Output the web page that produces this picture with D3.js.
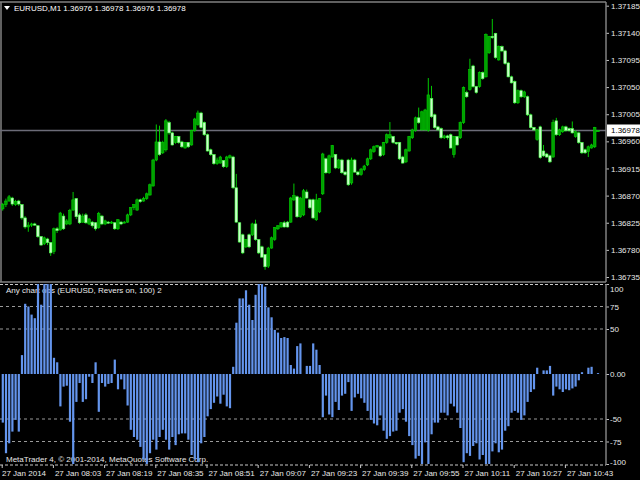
<!DOCTYPE html>
<html><head><meta charset="utf-8">
<script src="https://cdn.jsdelivr.net/npm/d3@7"></script>
<style>
body{margin:0;background:#000;overflow:hidden}
svg{display:block}
text{font-family:Tahoma,"Liberation Sans",Arial,sans-serif;}
</style>
</head><body><svg id="c" width="640" height="480"></svg>
<script>
// ---- data ----
const symbolLabel = "EURUSD,M1";
const lastOHLC = [1.36976, 1.36978, 1.36976, 1.36978];
const indicatorLabel = "Any chart obs (EURUSD, Revers on, 100) 2";
const copyright = "MetaTrader 4, \u00A9 2001-2014, MetaQuotes Software Corp.";

const open = [1.36848,1.36855,1.36861,1.36866,1.36855,1.36861,1.36855,1.36833,1.36818,1.36821,
1.36823,1.36820,1.36802,1.36790,1.36798,1.36792,1.36777,1.36815,1.36813,1.36836,
1.36823,1.36823,1.36846,1.36865,1.36838,1.36826,1.36838,1.36823,1.36826,1.36825,
1.36817,1.36836,1.36823,1.36826,1.36825,1.36825,1.36815,1.36826,1.36825,1.36826,
1.36838,1.36850,1.36846,1.36863,1.36861,1.36865,1.36871,1.36886,1.36929,1.36959,
1.36941,1.36946,1.36991,1.36974,1.36958,1.36968,1.36959,1.36949,1.36958,1.36954,
1.36978,1.36988,1.37007,1.36991,1.36971,1.36946,1.36938,1.36923,1.36924,1.36928,
1.36918,1.36933,1.36934,1.36883,1.36825,1.36805,1.36785,1.36805,1.36805,1.36823,
1.36797,1.36785,1.36772,1.36753,1.36783,1.36797,1.36815,1.36818,1.36825,1.36826,
1.36826,1.36863,1.36868,1.36835,1.36838,1.36876,1.36863,1.36863,1.36830,1.36843,
1.36873,1.36931,1.36908,1.36934,1.36938,1.36916,1.36929,1.36909,1.36929,1.36891,
1.36929,1.36909,1.36905,1.36913,1.36921,1.36931,1.36943,1.36951,1.36951,1.36938,
1.36958,1.36966,1.36968,1.36958,1.36958,1.36934,1.36926,1.36944,1.36966,1.36978,
1.36999,1.36979,1.36979,1.36978,1.37031,1.37004,1.36984,1.36981,1.36966,1.36969,
1.36971,1.36938,1.36968,1.36966,1.36991,1.37041,1.37046,1.37085,1.37051,1.37051,
1.37074,1.37067,1.37107,1.37134,1.37139,1.37095,1.37117,1.37110,1.37090,1.37067,
1.37059,1.37024,1.37044,1.37034,1.37034,1.37004,1.36983,1.36963,1.36984,1.36944,
1.36939,1.36936,1.36934,1.36994,1.36971,1.36976,1.36984,1.36981,1.36981,1.36968,
1.36974,1.36958,1.36946,1.36943,1.36949,1.36951,1.36976];

const high = [1.36858,1.36865,1.36871,1.36868,1.36863,1.36863,1.36856,1.36836,1.36826,1.36825,
1.36825,1.36821,1.36803,1.36802,1.36800,1.36793,1.36817,1.36818,1.36843,1.36840,
1.36831,1.36848,1.36876,1.36866,1.36841,1.36840,1.36841,1.36833,1.36828,1.36826,
1.36843,1.36838,1.36830,1.36828,1.36828,1.36826,1.36831,1.36828,1.36828,1.36840,
1.36851,1.36856,1.36865,1.36865,1.36868,1.36875,1.36890,1.36931,1.36988,1.36986,
1.36961,1.36997,1.36994,1.36976,1.36969,1.36969,1.36961,1.36959,1.36959,1.36979,
1.36999,1.37011,1.37009,1.36993,1.36973,1.36948,1.36939,1.36933,1.36936,1.36929,
1.36936,1.36938,1.36936,1.36906,1.36826,1.36807,1.36798,1.36807,1.36825,1.36830,
1.36798,1.36787,1.36773,1.36785,1.36802,1.36818,1.36821,1.36826,1.36828,1.36828,
1.36868,1.36890,1.36870,1.36868,1.36881,1.36880,1.36865,1.36865,1.36873,1.36866,
1.36941,1.36933,1.36938,1.36954,1.36939,1.36931,1.36931,1.36911,1.36931,1.36933,
1.36931,1.36911,1.36916,1.36921,1.36933,1.36948,1.36953,1.36954,1.36953,1.36959,
1.36973,1.36992,1.36969,1.36959,1.36959,1.36936,1.36948,1.36969,1.36981,1.37001,
1.37016,1.37011,1.37014,1.37065,1.37052,1.37006,1.36986,1.36983,1.36971,1.36971,
1.36973,1.36969,1.36969,1.36993,1.37051,1.37044,1.37097,1.37087,1.37052,1.37076,
1.37076,1.37139,1.37135,1.37163,1.37140,1.37119,1.37119,1.37112,1.37092,1.37069,
1.37061,1.37046,1.37046,1.37044,1.37036,1.37006,1.36984,1.36981,1.36986,1.36954,
1.36941,1.36938,1.36996,1.36999,1.36981,1.36986,1.36986,1.36983,1.36993,1.36978,
1.36976,1.36959,1.36948,1.36953,1.36956,1.36984,1.36978];

const low = [1.36845,1.36851,1.36860,1.36853,1.36853,1.36853,1.36830,1.36815,1.36810,1.36818,
1.36820,1.36800,1.36787,1.36788,1.36788,1.36770,1.36773,1.36808,1.36812,1.36813,
1.36821,1.36821,1.36845,1.36831,1.36823,1.36825,1.36823,1.36821,1.36817,1.36812,
1.36815,1.36821,1.36821,1.36823,1.36823,1.36813,1.36813,1.36821,1.36824,1.36825,
1.36836,1.36846,1.36845,1.36858,1.36860,1.36863,1.36870,1.36885,1.36927,1.36936,
1.36939,1.36943,1.36971,1.36953,1.36956,1.36956,1.36949,1.36948,1.36949,1.36953,
1.36976,1.36986,1.36981,1.36969,1.36943,1.36936,1.36921,1.36921,1.36923,1.36916,
1.36916,1.36931,1.36881,1.36825,1.36792,1.36773,1.36783,1.36783,1.36803,1.36795,
1.36773,1.36767,1.36747,1.36750,1.36782,1.36795,1.36813,1.36817,1.36817,1.36817,
1.36825,1.36861,1.36833,1.36833,1.36836,1.36865,1.36848,1.36831,1.36828,1.36841,
1.36871,1.36906,1.36906,1.36933,1.36914,1.36914,1.36906,1.36903,1.36886,1.36888,
1.36908,1.36903,1.36903,1.36911,1.36919,1.36929,1.36941,1.36949,1.36934,1.36936,
1.36956,1.36964,1.36956,1.36954,1.36929,1.36923,1.36924,1.36943,1.36964,1.36976,
1.36989,1.36978,1.36978,1.36976,1.36999,1.36981,1.36978,1.36964,1.36964,1.36963,
1.36948,1.36933,1.36953,1.36964,1.36989,1.37032,1.37044,1.37049,1.37039,1.37049,
1.37062,1.37066,1.37105,1.37130,1.37097,1.37094,1.37108,1.37087,1.37066,1.37056,
1.37022,1.37022,1.37032,1.37032,1.37002,1.36981,1.36978,1.36961,1.36931,1.36934,
1.36933,1.36924,1.36933,1.36969,1.36969,1.36974,1.36976,1.36976,1.36973,1.36966,
1.36956,1.36939,1.36939,1.36934,1.36948,1.36949,1.36976];

const close = [1.36855,1.36861,1.36868,1.36856,1.36860,1.36856,1.36833,1.36818,1.36821,1.36823,
1.36821,1.36802,1.36788,1.36800,1.36792,1.36775,1.36815,1.36812,1.36841,1.36815,
1.36828,1.36845,1.36863,1.36835,1.36825,1.36836,1.36825,1.36831,1.36820,1.36815,
1.36840,1.36823,1.36828,1.36825,1.36826,1.36815,1.36830,1.36823,1.36826,1.36838,
1.36850,1.36855,1.36863,1.36860,1.36865,1.36873,1.36888,1.36929,1.36959,1.36938,
1.36958,1.36994,1.36974,1.36954,1.36968,1.36958,1.36951,1.36958,1.36951,1.36978,
1.36997,1.37007,1.36983,1.36971,1.36944,1.36938,1.36923,1.36929,1.36934,1.36918,
1.36934,1.36936,1.36883,1.36826,1.36793,1.36775,1.36797,1.36785,1.36823,1.36797,
1.36775,1.36768,1.36752,1.36783,1.36800,1.36817,1.36820,1.36825,1.36818,1.36818,
1.36866,1.36870,1.36835,1.36866,1.36878,1.36866,1.36850,1.36833,1.36863,1.36865,
1.36939,1.36908,1.36936,1.36953,1.36916,1.36929,1.36908,1.36905,1.36888,1.36929,
1.36909,1.36905,1.36914,1.36919,1.36931,1.36946,1.36951,1.36953,1.36936,1.36958,
1.36971,1.36971,1.36958,1.36956,1.36931,1.36924,1.36946,1.36968,1.36979,1.36999,
1.36991,1.37009,1.37012,1.37037,1.37001,1.36983,1.36979,1.36966,1.36969,1.36966,
1.36949,1.36968,1.36954,1.36991,1.37049,1.37034,1.37079,1.37051,1.37041,1.37074,
1.37064,1.37137,1.37134,1.37132,1.37099,1.37117,1.37110,1.37089,1.37067,1.37057,
1.37024,1.37044,1.37034,1.37042,1.37004,1.36983,1.36979,1.36979,1.36933,1.36936,
1.36934,1.36926,1.36991,1.36971,1.36979,1.36984,1.36978,1.36978,1.36974,1.36976,
1.36958,1.36941,1.36941,1.36951,1.36954,1.36983,1.36978];

const oscValues = [-54,-88,-77,-64,-51,-64,21,78,75,66,
62,100,77,100,100,100,18,13,-36,-14,
-13,-53,-100,-31,-10,-31,-28,-3,-10,13,
-42,-10,-14,-11,-10,16,-17,-6,-17,-35,
-62,-70,-73,-81,-95,-100,-88,-73,-84,-70,
-62,-73,-84,-70,-79,-67,-66,-66,-73,-90,
-95,-98,-77,-70,-47,-39,-32,-25,-33,-23,
-36,-38,8,57,84,84,93,77,60,88,
100,100,97,74,63,49,46,40,41,40,
10,6,31,34,0,9,9,34,27,10,
-48,-24,-45,-48,-31,-40,-24,-22,-9,-41,
-26,-22,-27,-32,-41,-51,-55,-57,-46,-63,
-72,-69,-64,-63,-43,-39,-53,-69,-79,-94,
-91,-100,-76,-100,-67,-54,-54,-43,-43,-46,
-33,-36,-43,-60,-98,-88,-91,-80,-77,-95,
-90,-100,-100,-86,-77,-87,-84,-63,-58,-43,
-41,-43,-51,-46,-31,-20,-17,7,0,4,
4,9,-24,-14,-17,-20,-17,-18,-16,-14,
-7,2,0,7,8,0,1];

const priceTicks = [1.37185,1.37140,1.37095,1.37050,1.37005,1.36960,1.36915,1.36870,1.36825,1.36780,1.36735];
const oscTicks = [100,75,50,0,-50,-75,-100];
const oscTickLabels = ["100","75","50","0.00","-50","-75","-100"];
const oscLevels = [75,50,-50,-75];
const timeTickBars = [0,16,32,48,64,80,96,112,128,144,160,176];
const timeTickLabels = ["27 Jan 2014","27 Jan 08:03","27 Jan 08:19","27 Jan 08:35","27 Jan 08:51","27 Jan 09:07",
  "27 Jan 09:23","27 Jan 09:39","27 Jan 09:55","27 Jan 10:11","27 Jan 10:27","27 Jan 10:43"];

// ---- drawing ----
const svg = d3.select("#c");
const W = 640, H = 480;
const axisX = 606;
const mainTop = 2, mainBot = 282;
const oscTop = 284, oscBot = 465;
const n = close.length;

svg.append("rect").attr("width",W).attr("height",H).attr("fill","#000");

const x = d3.scaleLinear().domain([0, n-1]).range([2.7, 2.7 + 3.2*(n-1)]);
const y = d3.scaleLinear().domain([1.36735, 1.37185]).range([277, 5.7]);
const yo = d3.scaleLinear().domain([-100, 100]).range([464, 284]);

const txtCol = "#e8e8e8";
const gridGray = "#808080";
const fontFam = 'Tahoma,"Liberation Sans",Arial,sans-serif';

const defs = svg.append("defs");
defs.append("clipPath").attr("id","mainClip").append("rect").attr("x",0).attr("y",mainTop+1).attr("width",axisX).attr("height",mainBot-mainTop-1);
defs.append("clipPath").attr("id","oscClip").append("rect").attr("x",0).attr("y",oscTop).attr("width",axisX).attr("height",oscBot-oscTop);

// main panel frame
svg.append("line").attr("x1",0).attr("x2",axisX).attr("y1",mainTop).attr("y2",mainTop).attr("stroke",gridGray).attr("stroke-width",1.5);
svg.append("line").attr("x1",1).attr("x2",1).attr("y1",mainTop).attr("y2",mainBot).attr("stroke",gridGray).attr("stroke-width",1.5);
svg.append("line").attr("x1",0).attr("x2",axisX).attr("y1",mainBot).attr("y2",mainBot).attr("stroke",gridGray).attr("stroke-width",1.5);

// current price line
const lastPrice = lastOHLC[3];
svg.append("line").attr("x1",0).attr("x2",axisX).attr("y1",y(lastPrice)).attr("y2",y(lastPrice))
  .attr("stroke","#6c6c78").attr("stroke-width",1.5);

// candles
const gC = svg.append("g").attr("clip-path","url(#mainClip)");
const idx = d3.range(n);
gC.selectAll("line.wick").data(idx).join("line").attr("class","wick")
  .attr("x1",i=>x(i)).attr("x2",i=>x(i))
  .attr("y1",i=>y(high[i])).attr("y2",i=>y(low[i]))
  .attr("stroke","#00c800").attr("stroke-width",1);
const bw = 2.6;
gC.selectAll("rect.body").data(idx).join("rect").attr("class","body")
  .attr("x",i=>x(i)-bw/2).attr("width",bw)
  .attr("y",i=>y(Math.max(open[i],close[i])))
  .attr("height",i=>Math.max(1, Math.abs(y(open[i])-y(close[i]))))
  .attr("fill",i=>close[i]>=open[i] ? "#00a000" : "#c8ffc8")
  .attr("stroke",i=>close[i]>=open[i] ? "#00d000" : "#4cff4c")
  .attr("stroke-width",0.6);

// price axis
const pAxis = svg.append("g").attr("transform",`translate(${axisX},0)`)
  .call(d3.axisRight(y).tickValues(priceTicks).tickFormat(d3.format(".5f")).tickSize(3).tickPadding(2));
pAxis.select(".domain").remove();
pAxis.selectAll("line").attr("stroke","#c0c0c0");
pAxis.selectAll("text").attr("fill",txtCol).attr("font-size","8px").attr("font-family",fontFam);
svg.append("line").attr("x1",axisX).attr("x2",axisX).attr("y1",mainTop).attr("y2",mainBot).attr("stroke",gridGray).attr("stroke-width",1.5);

// current price label
svg.append("rect").attr("x",axisX+1).attr("y",y(lastPrice)-6).attr("width",W-axisX-1).attr("height",12).attr("fill","#fff");
svg.append("text").attr("x",axisX+5).attr("y",y(lastPrice)+3).attr("fill","#000").attr("font-size","8px").text(d3.format(".5f")(lastPrice));

// header
svg.append("path").attr("d","M4,6 L10,6 L7,10 Z").attr("fill","#fff");
svg.append("text").attr("x",14).attr("y",11).attr("fill","#fff").attr("font-size","8px")
  .text(symbolLabel + "  " + lastOHLC.map(d3.format(".5f")).join(" "));

// indicator panel
svg.selectAll("line.lvl").data(oscLevels).join("line").attr("class","lvl")
  .attr("x1",0).attr("x2",axisX).attr("y1",d=>yo(d)).attr("y2",d=>yo(d))
  .attr("stroke","#9a9a9a").attr("stroke-width",1).attr("stroke-dasharray","3,3");
svg.append("line").attr("x1",0).attr("x2",axisX).attr("y1",oscTop+0.5).attr("y2",oscTop+0.5)
  .attr("stroke","#c8c8c8").attr("stroke-width",1).attr("stroke-dasharray","3,2");
svg.append("line").attr("x1",0).attr("x2",axisX).attr("y1",oscBot).attr("y2",oscBot)
  .attr("stroke","#c8c8c8").attr("stroke-width",1).attr("stroke-dasharray","3,2");

svg.append("text").attr("x",6).attr("y",293).attr("fill",txtCol).attr("font-size","8px").text(indicatorLabel);
svg.append("text").attr("x",6).attr("y",462).attr("fill",txtCol).attr("font-size","8px").text(copyright);

const gO = svg.append("g").attr("clip-path","url(#oscClip)");
gO.selectAll("rect.hist").data(idx).join("rect").attr("class","hist")
  .attr("x",i=>x(i)-1).attr("width",2.2)
  .attr("y",i=>Math.min(yo(0), yo(oscValues[i])))
  .attr("height",i=>Math.abs(yo(oscValues[i])-yo(0)))
  .attr("fill","#6495ed");

const oAxis = svg.append("g").attr("transform",`translate(${axisX},0)`)
  .call(d3.axisRight(yo).tickValues(oscTicks).tickFormat((d,i)=>oscTickLabels[i]).tickSize(3).tickPadding(1));
oAxis.select(".domain").remove();
oAxis.selectAll("line").attr("stroke","#c0c0c0");
oAxis.selectAll("text").attr("fill",txtCol).attr("font-size","8px").attr("font-family",fontFam)
  .attr("dy",d=> d===100 ? "0.95em" : (d===-100 ? "0.05em" : "0.32em"));
svg.append("line").attr("x1",axisX).attr("x2",axisX).attr("y1",oscTop).attr("y2",oscBot).attr("stroke",gridGray).attr("stroke-width",1.5);

// time axis
const tG = svg.append("g");
tG.selectAll("line.tt").data(timeTickBars).join("line").attr("class","tt")
  .attr("x1",d=>x(d)-0.5).attr("x2",d=>x(d)-0.5).attr("y1",oscBot).attr("y2",oscBot+3)
  .attr("stroke","#c8c8c8");
tG.selectAll("text").data(timeTickBars).join("text")
  .attr("x",(d,i)=> i===0 ? 2 : x(d)+1).attr("y",476)
  .attr("fill",txtCol).attr("font-size","8px")
  .text((d,i)=>timeTickLabels[i]);
</script>
</body></html>
